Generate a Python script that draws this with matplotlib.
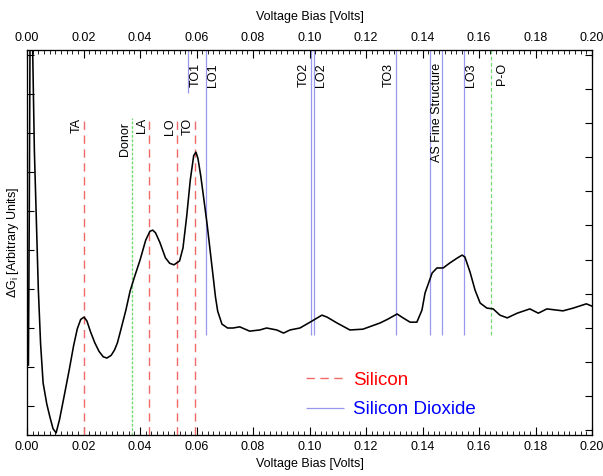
import matplotlib.pyplot as plt
from matplotlib.ticker import MultipleLocator, FormatStrFormatter

plt.rcParams['font.family'] = ['Liberation Sans', 'DejaVu Sans']
plt.rcParams['font.size'] = 9
plt.rcParams['mathtext.fontset'] = 'custom'
plt.rcParams['mathtext.rm'] = 'Liberation Sans'

# tunneling spectrum (y in left-tick units)
bias = [0.0005, 0.0008, 0.0011, 0.0015, 0.0020, 0.0026, 0.0040, 0.0048, 0.0057,
        0.0070, 0.0081, 0.0092, 0.0103, 0.0115, 0.0130, 0.0150, 0.0165, 0.0178,
        0.0190, 0.0202, 0.0212, 0.0225, 0.0240, 0.0255, 0.0270, 0.0283, 0.0298,
        0.0310, 0.0320, 0.0333, 0.0350, 0.0365, 0.0380, 0.0400, 0.0420, 0.0435,
        0.0445, 0.0455, 0.0470, 0.0490, 0.0505, 0.0520, 0.0540, 0.0552, 0.0565,
        0.0578, 0.0590, 0.0598, 0.0605, 0.0615, 0.0626, 0.0637, 0.0648, 0.0659,
        0.0667, 0.0675, 0.0690, 0.0710, 0.0729, 0.0753, 0.0788, 0.0824, 0.0848,
        0.0884, 0.0908, 0.0931, 0.0966, 0.1002, 0.1044, 0.1062, 0.1097, 0.1143,
        0.1189, 0.1250, 0.1278, 0.1310, 0.1331, 0.1356, 0.1380, 0.1398, 0.1409,
        0.1434, 0.1451, 0.1473, 0.1497, 0.1522, 0.1540, 0.1550, 0.1568, 0.1586,
        0.1604, 0.1628, 0.1650, 0.1674, 0.1700, 0.1735, 0.1780, 0.1810, 0.1840,
        0.1897, 0.1933, 0.1980, 0.2000]
dg = [2.05, 6.00, 10.90, 10.90, 10.13, 7.56, 4.00, 2.60, 1.59,
      1.05, 0.72, 0.42, 0.31, 0.65, 1.20, 1.95, 2.55, 2.98,
      3.22, 3.28, 3.18, 2.90, 2.62, 2.40, 2.26, 2.23, 2.30,
      2.44, 2.62, 2.98, 3.46, 3.95, 4.30, 4.74, 5.25, 5.48,
      5.51, 5.44, 5.20, 4.80, 4.66, 4.62, 4.72, 5.05, 5.85,
      6.80, 7.42, 7.51, 7.35, 6.90, 6.30, 5.69, 5.00, 4.31,
      3.80, 3.43, 3.10, 3.00, 3.00, 3.03, 2.92, 2.95, 3.00,
      2.95, 2.87, 2.95, 3.00, 3.15, 3.33, 3.28, 3.13, 2.95,
      2.97, 3.13, 3.23, 3.36, 3.26, 3.15, 3.15, 3.46, 3.90,
      4.41, 4.54, 4.54, 4.67, 4.79, 4.87, 4.82, 4.44, 3.97,
      3.64, 3.51, 3.49, 3.33, 3.26, 3.38, 3.49, 3.38, 3.49,
      3.44, 3.51, 3.62, 3.56]

# phonon / feature positions [V]
si_names = ['TA', 'LA', 'LO', 'TO']
si_pos = [0.0202, 0.0433, 0.0531, 0.0595]
sio2_names = ['LO1', 'TO2', 'LO2', 'TO3', 'AS Fine Structure', '', 'LO3']
sio2_pos = [0.0634, 0.1005, 0.1016, 0.1306, 0.1427, 0.1469, 0.1547]
to1_pos = 0.0571
donor_pos = 0.0373
po_pos = 0.1643

YMIN, YMAX = 0.256, 10.13
LOW_TOP = 8.38    # top of silicon / donor lines
HIGH_END = 2.82   # bottom of oxide lines
LABEL_HI = 9.79

RED = '#f06a6a'
BLUE = '#9898ee'
GREEN = '#74d874'

fig = plt.figure(figsize=(6.03, 4.76), dpi=100)
ax = fig.add_axes([0.0448, 0.0861, 0.9370, 0.8089])

ax.vlines(si_pos, YMIN, LOW_TOP, colors=RED, linestyles=(0, (6, 4)), lw=1,
          label='Silicon')
ax.vlines(sio2_pos, HIGH_END, YMAX, colors=BLUE, lw=0.9,
          label='Silicon Dioxide')
ax.vlines([to1_pos], 9.03, YMAX, colors=BLUE, lw=0.9)
ax.vlines([donor_pos], YMIN, LOW_TOP, colors=GREEN, linestyles=(0, (2, 1.2)), lw=1)
ax.vlines([po_pos], HIGH_END, YMAX, colors=GREEN, linestyles=(0, (3, 2)), lw=0.9)

ax.plot(bias, dg, color='black', lw=1.15, zorder=3)


def tag(name, x, y, side):
    ax.annotate(name, (x, y), xytext=(side * 5, 0), textcoords='offset points',
                rotation=90, ha='center', va='top')


for name, x in zip(si_names, si_pos):
    tag(name, x, LOW_TOP, -1)
tag('Donor', donor_pos, LOW_TOP - 0.1, -1)
tag('TO1', to1_pos, LABEL_HI, 1)
for name, x, side in zip(sio2_names, sio2_pos, [1, -1, 1, -1, 1, 1, 1]):
    if name:
        tag(name, x, LABEL_HI, side)
tag('P-O', po_pos, LABEL_HI, 1.6)

leg = ax.legend(loc='center left', bbox_to_anchor=(0.494, 0.104), frameon=False,
                fontsize=13.5, labelcolor=['red', 'blue'], handlelength=2.0,
                handletextpad=0.5, borderpad=0, borderaxespad=0, labelspacing=0.65)

ax.set_xlim(0, 0.2)
ax.set_ylim(YMIN, YMAX)
ax.set_yticks(range(1, 11))
ax.tick_params(axis='y', direction='in', length=5, labelleft=False)
ax.set_xlabel('Voltage Bias [Volts]', labelpad=4)
ax.set_ylabel(r'$\Delta$G$_\mathrm{i}$ [Arbitrary Units]', labelpad=4)

# same voltage scale on top
top = ax.twiny()
top.set_xlim(ax.get_xlim())
top.set_xlabel('Voltage Bias [Volts]', labelpad=9)
for a in (ax, top):
    a.xaxis.set_major_locator(MultipleLocator(0.02))
    a.xaxis.set_minor_locator(MultipleLocator(0.002))
    a.xaxis.set_major_formatter(FormatStrFormatter('%.2f'))
    a.tick_params(axis='x', which='major', direction='in', length=6, pad=4)
    a.tick_params(axis='x', which='minor', direction='in', length=3.2)

right = ax.twinx()
right.set_ylim(-0.147, 11.147)
right.set_yticks(range(12))
right.tick_params(axis='y', direction='in', length=5, labelright=False)

fig.savefig('out.png', dpi=100)
